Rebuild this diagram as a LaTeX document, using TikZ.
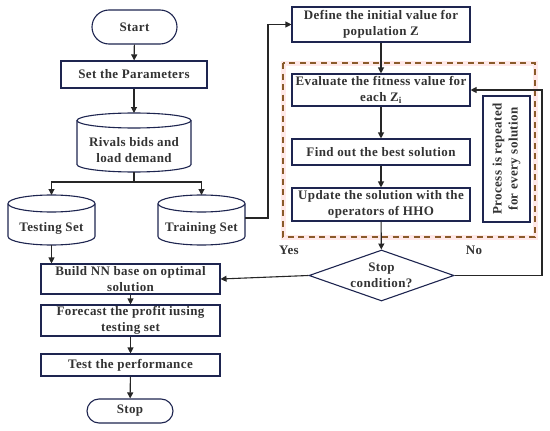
\documentclass[tikz,border=0pt]{standalone}
\usepackage{fontspec}
\setmainfont{Liberation Serif}[LetterSpace=3]
\usetikzlibrary{shapes.geometric,arrows.meta}
\definecolor{navy}{HTML}{1E2550}
\definecolor{lin}{HTML}{262626}
\definecolor{brn}{HTML}{8A5A2A}
\tikzset{
  txt/.style={font=\fontsize{13}{16}\selectfont\bfseries, text=black!80, align=center},
  box/.style={txt, draw=navy, line width=1.1pt, inner sep=0pt, fill=white},
  pill/.style={box, rounded corners=12pt},
  cyl/.style={draw=navy, line width=1.1pt, fill=white},
  conn/.style={draw=lin, line width=1.1pt},
  arr/.style={conn, -{Triangle[length=6pt,width=6pt]}},
}
\begin{document}
\begin{tikzpicture}[x=1pt,y=-1pt]
\useasboundingbox (0,0) rectangle (550,431);
% ---- left column
\node[pill, rounded corners=17pt, minimum width=85pt, minimum height=34pt] (start) at (134.5,27) {Start};
\node[box, minimum width=146pt, minimum height=27pt] (params) at (134,74.5) {Set the Parameters};
% Rivals cylinder
\draw[cyl] (77,120.5) -- (77,164.5) arc[start angle=180,end angle=360,x radius=57pt,y radius=7.5pt] -- (191,120.5);
\draw[cyl] (134,120.5) ellipse[x radius=57pt,y radius=7.5pt];
\node[txt] (rivals) at (134,150) {Rivals bids and\\load demand};
\coordinate (rivtop) at (134,113);
\coordinate (rivbot) at (134,172);
% Testing cylinder
\draw[cyl] (8,203.5) -- (8,236.5) arc[start angle=180,end angle=360,x radius=43.5pt,y radius=8.5pt] -- (95,203.5);
\draw[cyl] (51.5,203.5) ellipse[x radius=43.5pt,y radius=8.5pt];
\node[txt] (testing) at (51.5,228) {Testing Set};
\coordinate (testtop) at (51.5,195);
\coordinate (testbot) at (51.5,245);
% Training cylinder
\draw[cyl] (158,203.5) -- (158,236.5) arc[start angle=180,end angle=360,x radius=43.5pt,y radius=8.5pt] -- (245,203.5);
\draw[cyl] (201.5,203.5) ellipse[x radius=43.5pt,y radius=8.5pt];
\node[txt] (training) at (201.5,228) {Training Set};
\coordinate (traintop) at (201.5,195);
\coordinate (trainright) at (245,218);
\coordinate (split) at (134,182);
\coordinate (bend) at (268,218);

\node[box, minimum width=179pt, minimum height=30pt] (build) at (130.5,279) {Build NN base on optimal\\solution};
\node[box, minimum width=179pt, minimum height=31pt] (forecast) at (130.5,320.5) {Forecast the profit iusing\\testing set};
\node[box, minimum width=179pt, minimum height=22pt] (perf) at (130.5,365) {Test the performance};
\node[pill, minimum width=86pt, minimum height=24pt] (stop) at (130,411) {Stop};

% ---- right column
\node[box, minimum width=178pt, minimum height=35pt] (define) at (381,24.5) {Define the initial value for\\population Z};
\draw[pink!35, line width=5pt] (283,63) rectangle (535,237);
\draw[brn, line width=2pt, dash pattern=on 6pt off 4.5pt] (283,63) rectangle (535,237);
\coordinate (loop) at (542,275.5);
\node[box, minimum width=178pt, minimum height=32pt] (eval) at (381,90) {Evaluate the fitness value for\\each Z\textsubscript{i}};
\node[box, minimum width=178pt, minimum height=26pt] (find) at (381,152) {Find out the best solution};
\node[box, minimum width=178pt, minimum height=33pt] (update) at (381,204.5) {Update the solution with the\\operators of HHO};
\node[box, minimum width=47pt, minimum height=126pt] (process) at (506.5,159) {};
\node[txt, rotate=90] (proctext) at (506.5,159) {Process is repeated\\for every solution};
\node[box, diamond, aspect=2.8, minimum width=145pt, minimum height=51pt] (cond) at (381.5,275.5) {Stop\\condition?};
\node[txt] (yes) at (289,250) {Yes};
\node[txt] (no) at (474,250) {No};

% ---- connectors
\draw[arr] (start) -- (params);
\draw[arr] (params) -- (rivtop);
\draw[conn] (rivbot) -- (split);
\draw[arr] (split) -| (testtop);
\draw[arr] (split) -| (traintop);
\draw[arr] (trainright) -- (bend) |- (define.west);
\draw[arr] (testbot) -- (testbot |- build.north);
\draw[arr] (build) -- (forecast);
\draw[arr] (forecast) -- (perf);
\draw[arr] (perf) -- (stop);
\draw[arr] (define) -- (eval);
\draw[arr] (eval) -- (find);
\draw[arr] (find) -- (update);
\draw[arr] (update) -- (cond);
\draw[arr] (cond.east) -- (loop) |- (eval.east);
\draw[arr] (cond.west) -- (build.east);
\end{tikzpicture}
\end{document}
